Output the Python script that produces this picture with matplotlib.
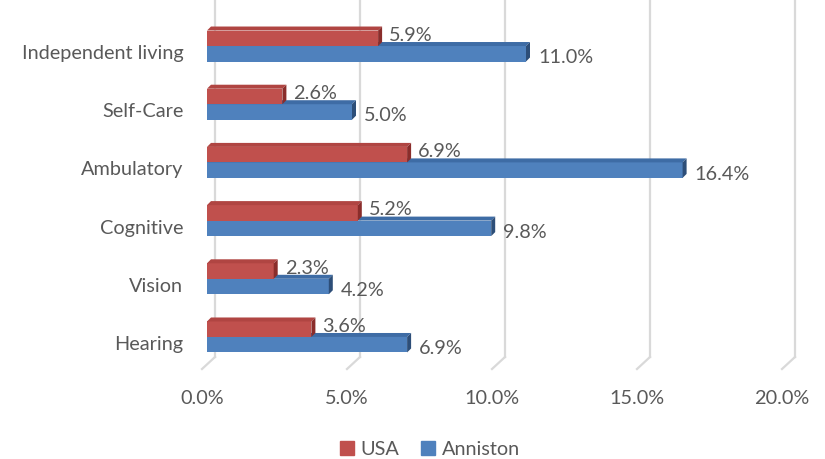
import matplotlib
matplotlib.use('Agg')
import matplotlib.pyplot as plt
from matplotlib.patches import Polygon, Patch
from matplotlib.transforms import ScaledTranslation, IdentityTransform, offset_copy

categories = ["Hearing", "Vision", "Cognitive", "Ambulatory", "Self-Care", "Independent living"]
usa = [3.6, 2.3, 5.2, 6.9, 2.6, 5.9]
anniston = [6.9, 4.2, 9.8, 16.4, 5.0, 11.0]
xticks = [0, 5, 10, 15, 20]

RED, RED_TOP, RED_SIDE = "#C0504D", "#B04542", "#8A2D2B"
BLUE, BLUE_TOP, BLUE_SIDE = "#4F81BD", "#3E6CA5", "#2D4E78"
GREY = "#595959"
GRID = "#D9D9D9"
FS = 14.3

plt.rcParams['font.family'] = ['Lato', 'DejaVu Sans']

fig = plt.figure(figsize=(8.25, 4.6), dpi=100)
ax = fig.add_axes([207 / 825, 102 / 460, 580 / 825, 358 / 460])
ax.set_xlim(0, 20)
ax.set_ylim(-0.344, 5.808)
for s in ax.spines.values():
    s.set_visible(False)

# pixel -> data scale for the fake 3D depth
px_x = 20 / 580
px_y = (5.808 + 0.344) / 358
h = 15.5 * px_y
dx, dy = 4 * px_x, 4 * px_y

# back wall gridlines and floor slants
wall = offset_copy(ax.transData, fig, x=8, y=0, units='dots')
for v in xticks:
    ax.plot([v, v], [-0.344, 5.808], color=GRID, lw=1.6, transform=wall,
            clip_on=False, zorder=0)
    px, py = ax.transData.transform((v, -0.344))
    ax.plot([px + 8, px - 5], [py, py - 12], color=GRID, lw=1.6,
            transform=IdentityTransform(), clip_on=False, zorder=0)


def bar3d(y0, val, front, top, side, z):
    ax.barh(y0 + h / 2, val, height=h, left=0, color=front, zorder=z)
    ax.add_patch(Polygon([(0, y0 + h), (dx, y0 + h + dy), (val + dx, y0 + h + dy), (val, y0 + h)],
                         closed=True, color=top, zorder=z, lw=0))
    ax.add_patch(Polygon([(val, y0), (val + dx, y0 + dy), (val + dx, y0 + h + dy), (val, y0 + h)],
                         closed=True, color=side, zorder=z, lw=0))


pos = list(range(len(categories)))
for i, y in enumerate(pos):
    bar3d(y - h, anniston[i], BLUE, BLUE_TOP, BLUE_SIDE, 3)
    bar3d(y, usa[i], RED, RED_TOP, RED_SIDE, 4)
    ax.text(usa[i] + 11 * px_x, y + h / 2 + 4 * px_y, f"{usa[i]:.1f}%", color=GREY,
            fontsize=FS, va='center', ha='left', zorder=2)
    ax.text(anniston[i] + 12 * px_x, y - h / 2 - 3 * px_y, f"{anniston[i]:.1f}%", color=GREY,
            fontsize=FS, va='center', ha='left', zorder=5)

ax.set_yticks(pos)
ax.set_yticklabels(categories, color=GREY, fontsize=FS)
ax.tick_params(axis='y', length=0, pad=17)
for lbl in ax.get_yticklabels():
    lbl.set_transform(lbl.get_transform() + ScaledTranslation(0, -5 / 100, fig.dpi_scale_trans))

ax.set_xticks(xticks)
ax.set_xticklabels([f"{v:.1f}%" for v in xticks], color=GREY, fontsize=FS)
ax.tick_params(axis='x', length=0, pad=23)
for lbl in ax.get_xticklabels():
    lbl.set_transform(lbl.get_transform() + ScaledTranslation(-5 / 100, 0, fig.dpi_scale_trans))

handles = [Patch(color=RED, label="USA"), Patch(color=BLUE, label="Anniston")]
leg = fig.legend(handles=handles, loc='center', bbox_to_anchor=(430 / 825, 1 - 450 / 460), ncol=2,
                 frameon=False, fontsize=FS, handlelength=0.7, handleheight=0.7,
                 handletextpad=0.35, columnspacing=1.1)
for t in leg.get_texts():
    t.set_color(GREY)

fig.savefig("out.png", dpi=100)
